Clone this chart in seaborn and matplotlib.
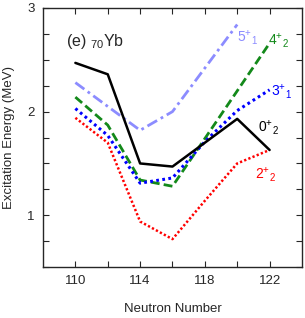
import matplotlib
matplotlib.use("Agg")
import matplotlib.pyplot as plt
import seaborn as sns
import numpy as np
import pandas as pd
from matplotlib.ticker import MultipleLocator, FixedLocator

sns.set_style("ticks")
plt.rcParams['font.family'] = ['Liberation Sans', 'DejaVu Sans']
plt.rcParams['mathtext.fontset'] = 'custom'
plt.rcParams['mathtext.rm'] = 'Liberation Sans'
plt.rcParams['mathtext.it'] = 'Liberation Sans:italic'
plt.rcParams['mathtext.default'] = 'rm'

# Data
neutrons = [110, 112, 114, 116, 118, 120, 122]
neutrons_5 = [110, 112, 114, 116, 118, 120]
e_0p2 = [2.47, 2.36, 1.50, 1.47, 1.70, 1.93, 1.63]
e_5p1 = [2.28, 2.05, 1.82, 2.00, 2.42, 2.84]
e_4p2 = [2.14, 1.87, 1.34, 1.28, 1.74, 2.20, 2.66]
e_3p1 = [2.03, 1.77, 1.31, 1.36, 1.71, 2.01, 2.21]
e_2p2 = [1.94, 1.70, 0.94, 0.77, 1.14, 1.50, 1.63]

labels = [r"$5^{+}{}_{1}$", r"$4^{+}{}_{2}$", r"$3^{+}{}_{1}$", r"$0^{+}{}_{2}$", r"$2^{+}{}_{2}$"]
title_txt = r"(e) $_{70}$Yb"

fig = plt.figure(figsize=(3.05, 3.18), dpi=100)
ax = fig.add_axes([0.141, 0.160, 0.849, 0.815])

sns.lineplot(x=neutrons_5, y=e_5p1, ax=ax, color="#8c8cff", lw=2.0, linestyle=(0, (4, 1.5, 1, 1.5)))
sns.lineplot(x=neutrons, y=e_4p2, ax=ax, color="#13891a", lw=2.0, linestyle=(0, (3.2, 1.5)))
sns.lineplot(x=neutrons, y=e_3p1, ax=ax, color="#0000ff", lw=2.2, linestyle=(0, (0.9, 1.1)))
sns.lineplot(x=neutrons, y=e_2p2, ax=ax, color="#ff0000", lw=1.8, linestyle=(0, (0.9, 0.9)))
sns.lineplot(x=neutrons, y=e_0p2, ax=ax, color="black", lw=1.8, linestyle="-")

ax.set_xlim(108, 124)
ax.set_ylim(0.5, 3.0)
ax.xaxis.set_major_locator(FixedLocator([110, 114, 118, 122]))
ax.xaxis.set_minor_locator(FixedLocator([112, 116, 120]))
ax.yaxis.set_major_locator(FixedLocator([1, 2, 3]))
ax.yaxis.set_minor_locator(MultipleLocator(0.25))
ax.set_yticklabels(["1", "2", "3"])
ax.tick_params(which="both", direction="in", top=True, right=True, length=4.5, width=0.8, labelsize=9.5, pad=6)
for s in ax.spines.values():
    s.set_linewidth(1.0)

ax.set_xlabel("Neutron Number", fontsize=9.5, labelpad=11)
ax.set_ylabel("Excitation Energy (MeV)", fontsize=9.5, labelpad=9)

ax.text(109.4, 2.68, title_txt, fontsize=11.5, ha="left", va="center")
ax.text(120.0, 2.71, labels[0], color="#8c8cff", fontsize=10, ha="left", va="center")
ax.text(121.9, 2.68, labels[1], color="#13891a", fontsize=10, ha="left", va="center")
ax.text(122.1, 2.19, labels[2], color="#0000ff", fontsize=10, ha="left", va="center")
ax.text(121.3, 1.84, labels[3], color="black", fontsize=10, ha="left", va="center")
ax.text(121.1, 1.39, labels[4], color="#ff0000", fontsize=10, ha="left", va="center")

fig.savefig("out.png", dpi=100)
